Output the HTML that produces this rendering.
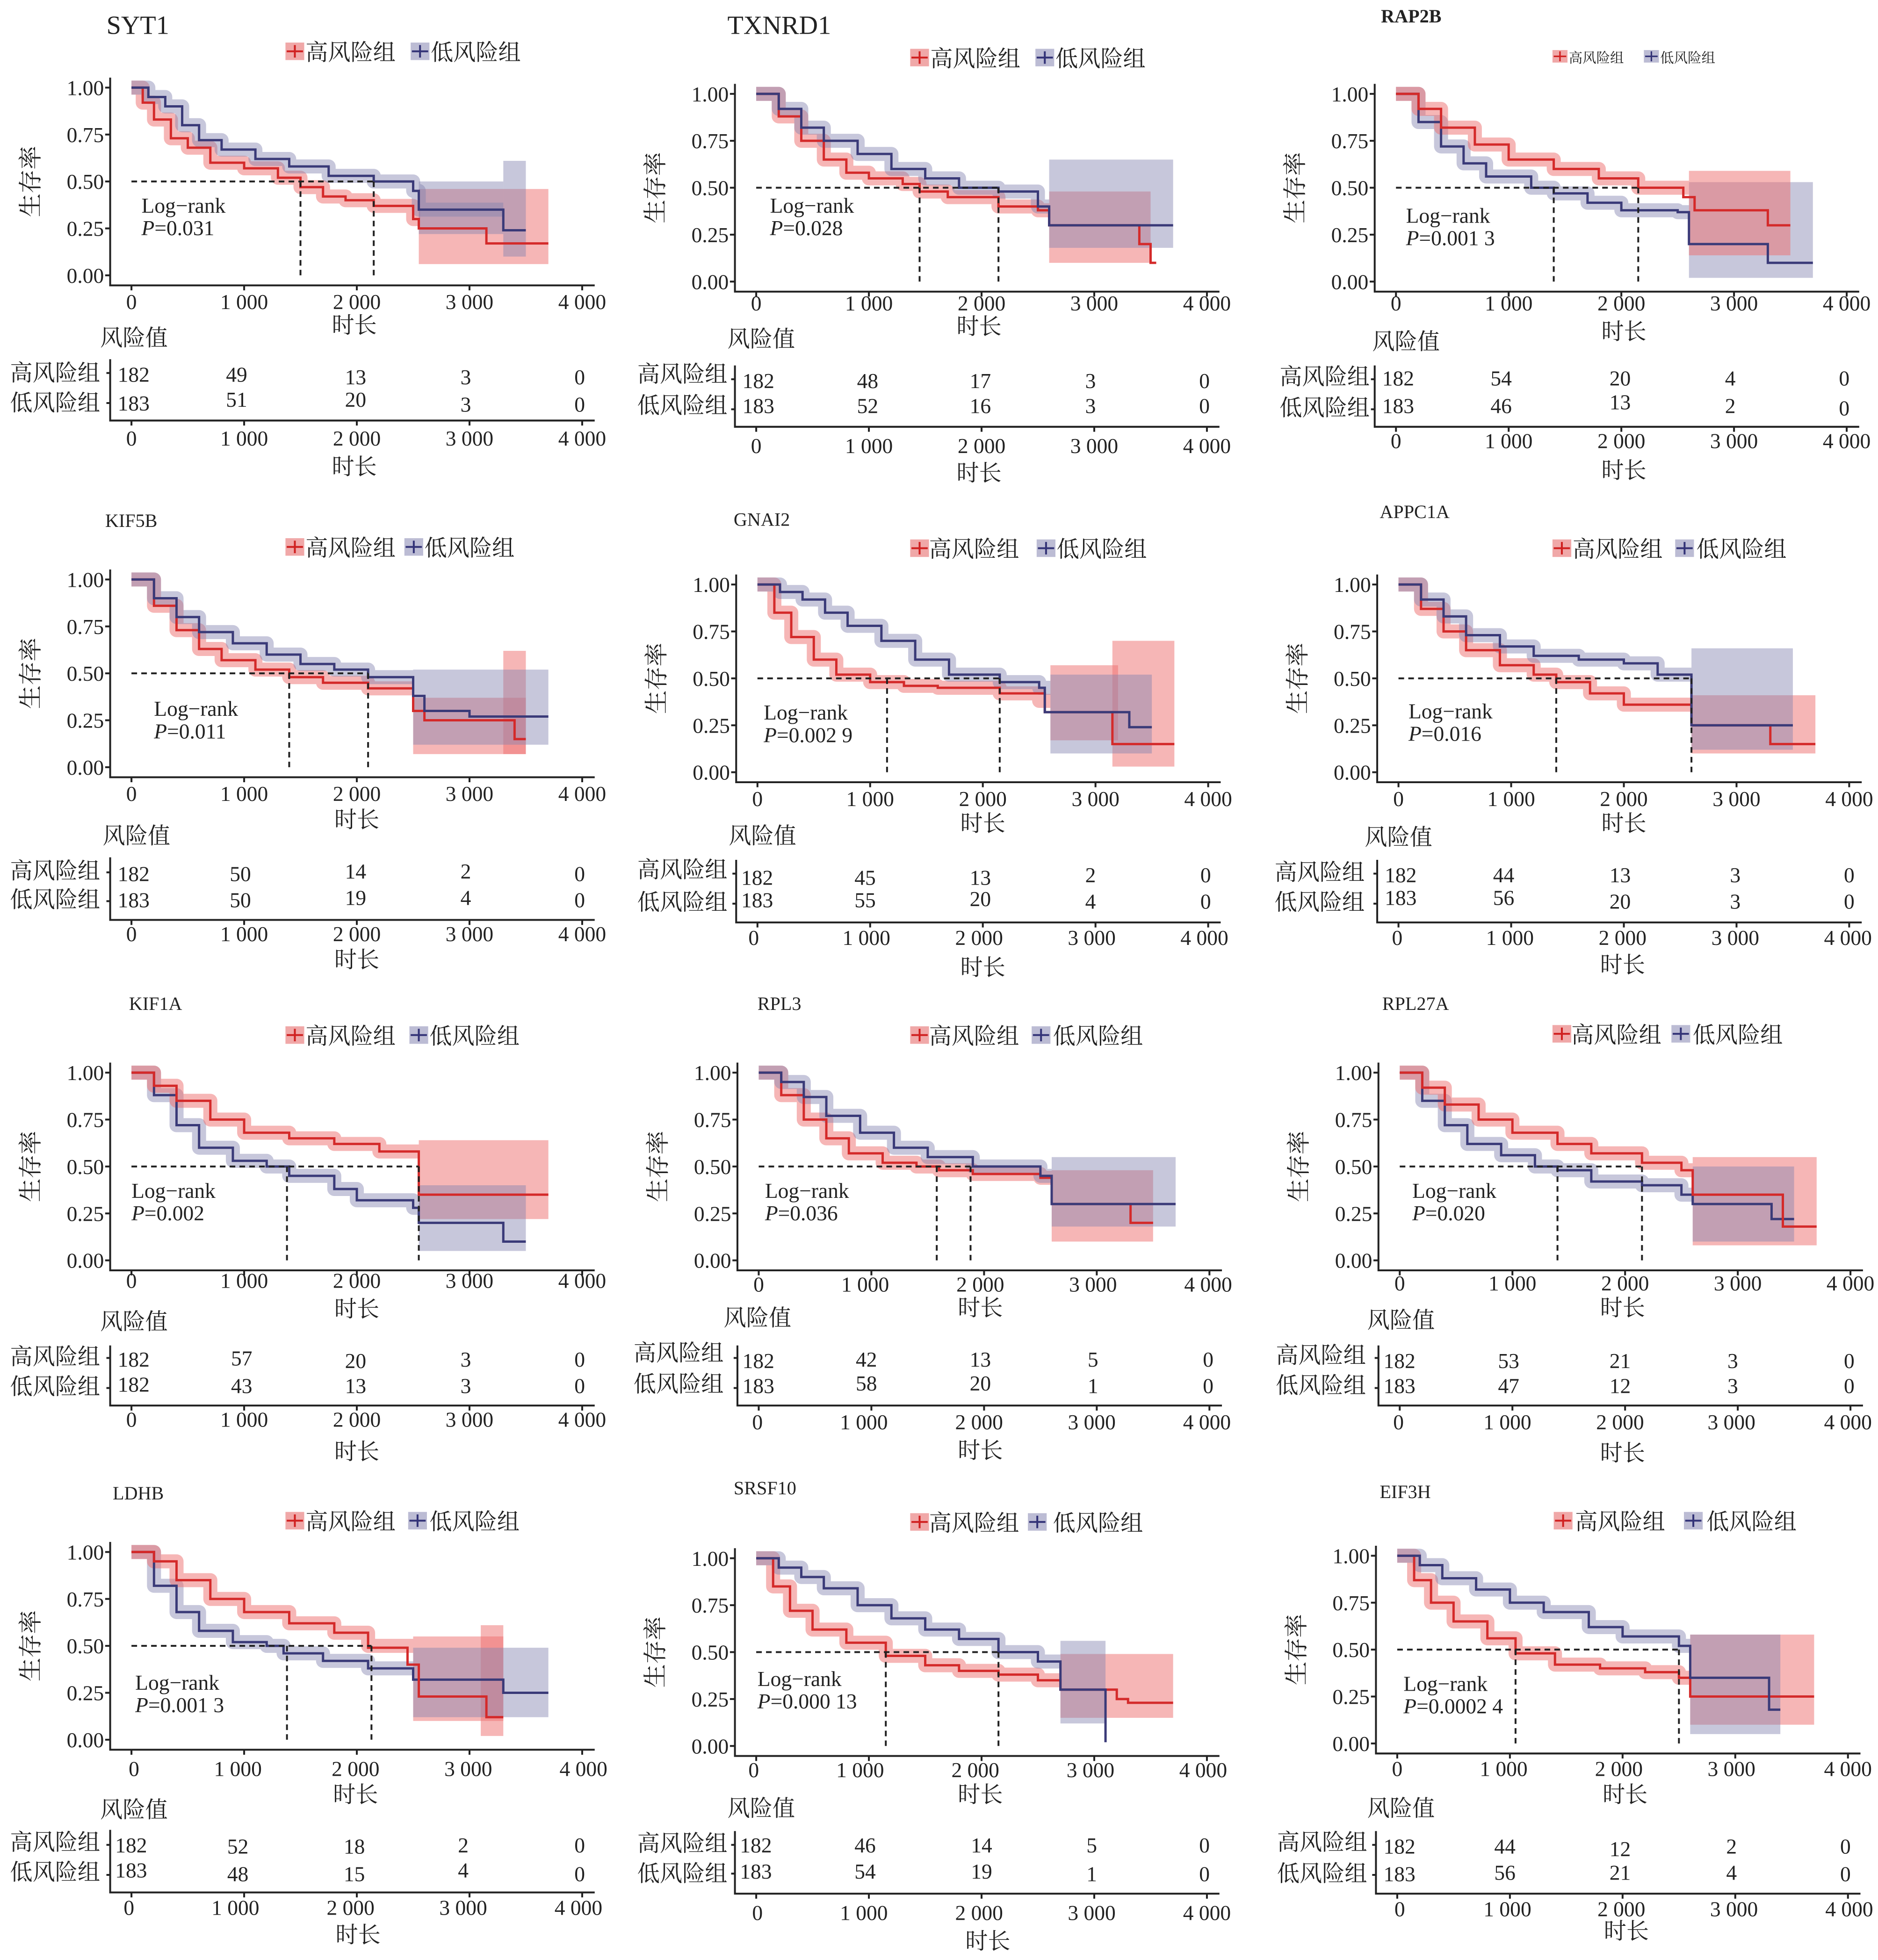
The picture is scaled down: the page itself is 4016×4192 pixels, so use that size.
<!DOCTYPE html>
<html><head><meta charset="utf-8"><style>
html,body{margin:0;padding:0;background:#fff}
svg{display:block}
text{font-family:"Liberation Serif","Noto Serif CJK SC",serif;fill:#222}
.t{font-size:21px}
.ts{font-size:15px;font-weight:bold}
.lg{font-size:18px}
.yl{font-size:19px;text-anchor:middle}
.n{font-size:17px}
.e{font-size:17px;text-anchor:end}
.m{font-size:17px;text-anchor:middle}
.c{font-size:18px;text-anchor:middle}
.ax{fill:none;stroke:#222;stroke-width:1.5}
.br{fill:none;stroke:rgba(238,110,110,.5);stroke-width:30;vector-effect:non-scaling-stroke;stroke-linejoin:round}
.bb{fill:none;stroke:rgba(130,130,175,.45);stroke-width:30;vector-effect:non-scaling-stroke;stroke-linejoin:round}
.rr{fill:rgba(238,110,110,.5)}
.rb{fill:rgba(130,130,175,.45)}
.lr{fill:none;stroke:#d42a2a;stroke-width:5;vector-effect:non-scaling-stroke}
.lb{fill:none;stroke:#3a3a78;stroke-width:5;vector-effect:non-scaling-stroke}
.d{fill:none;stroke:#222;stroke-width:4;stroke-dasharray:12 9;vector-effect:non-scaling-stroke}
</style></head><body>
<svg xmlns="http://www.w3.org/2000/svg" width="4016" height="4192" viewBox="0 0 1500 1566" preserveAspectRatio="none">

<!-- 1 SYT1 -->
<g transform="translate(0,0)">
<text x="85" y="27" class="t">SYT1</text>
<rect x="228" y="34" width="15" height="14" fill="#f0a8a8"/><path d="M229 41h13M235.5 36v10" stroke="#d02020" stroke-width="1.5"/>
<text x="244" y="48" class="lg">高风险组</text>
<rect x="328" y="34" width="15" height="14" fill="#bcbcd4"/><path d="M329 41h13M335.5 36v10" stroke="#333377" stroke-width="1.5"/>
<text x="344" y="48" class="lg">低风险组</text>
<text class="yl" transform="translate(31,145) rotate(-90)">生存率</text>
<path class="ax" d="M88 62V228H475M84 70h4M84 107.5h4M84 145h4M84 182.5h4M84 220h4M105 228v4M195 228v4M285 228v4M375 228v4M465 228v4"/>
<text x="83" y="76" class="e">1.00</text><text x="83" y="113.5" class="e">0.75</text><text x="83" y="151" class="e">0.50</text><text x="83" y="188.5" class="e">0.25</text><text x="83" y="226" class="e">0.00</text>
<text x="105" y="247" class="m">0</text><text x="195" y="247" class="m">1 000</text><text x="285" y="247" class="m">2 000</text><text x="375" y="247" class="m">3 000</text><text x="465" y="247" class="m">4 000</text>
<text x="283" y="266" class="c">时长</text>
<g transform="translate(105,220) scale(0.09,-150)">
<rect class="rr" x="2550" y="0.06" width="1150" height="0.40"/><rect class="rb" x="3300" y="0.1" width="200" height="0.51"/>
<path class="br" d="M0 1H100V.92H200V.83H350V.73H500V.68H700V.6H1000V.57H1300V.52H1500V.47H1700V.42H1900V.4H2150V.37H2500V.3H2550"/>
<path class="bb" d="M0 1H150V.95H300V.9H450V.8H600V.72H800V.67H1100V.62H1400V.58H1750V.53H2150V.5H2500V.45H2550V.35H3300"/>
<rect class="rb" x="2550" y="0.22" width="750" height="0.28"/>
<path class="lr" d="M0 1H100V.92H200V.83H350V.73H500V.68H700V.6H1000V.57H1300V.52H1500V.47H1700V.42H1900V.4H2150V.37H2500V.3H2550V.25H3150V.17H3700"/>
<path class="lb" d="M0 1H150V.95H300V.9H450V.8H600V.72H800V.67H1100V.62H1400V.58H1750V.53H2150V.5H2500V.45H2550V.35H3300V.24H3500"/>
<path class="d" d="M0 .5H2150M1500 .5V0M2150 .5V0"/>
</g>
<text x="113" y="170" class="n">Log−rank</text><text x="113" y="188" class="n"><tspan font-style="italic">P</tspan>=0.031</text>
<text x="80" y="276" class="lg">风险值</text>
<text x="8" y="304" class="lg">高风险组</text><text x="8" y="328" class="lg">低风险组</text>
<path class="ax" d="M88 287V336H475M85 298h3M85 322h3M105 336v4M195 336v4M285 336v4M375 336v4M465 336v4"/>
<text x="94" y="305" class="n">182</text><text x="189" y="305" class="m">49</text><text x="284" y="307" class="m">13</text><text x="372" y="307" class="m">3</text><text x="463" y="307" class="m">0</text>
<text x="94" y="328" class="n">183</text><text x="189" y="325" class="m">51</text><text x="284" y="325" class="m">20</text><text x="372" y="329" class="m">3</text><text x="463" y="329" class="m">0</text>
<text x="105" y="356" class="m">0</text><text x="195" y="356" class="m">1 000</text><text x="285" y="356" class="m">2 000</text><text x="375" y="356" class="m">3 000</text><text x="465" y="356" class="m">4 000</text>
<text x="283" y="379" class="c">时长</text>
</g>

<!-- 2 TXNRD1 -->
<g transform="translate(499,5)">
<text x="82" y="22" class="t">TXNRD1</text>
<rect x="228" y="34" width="15" height="14" fill="#f0a8a8"/><path d="M229 41h13M235.5 36v10" stroke="#d02020" stroke-width="1.5"/>
<text x="244" y="48" class="lg">高风险组</text>
<rect x="328" y="34" width="15" height="14" fill="#bcbcd4"/><path d="M329 41h13M335.5 36v10" stroke="#333377" stroke-width="1.5"/>
<text x="344" y="48" class="lg">低风险组</text>
<text class="yl" transform="translate(31,145) rotate(-90)">生存率</text>
<path class="ax" d="M88 62V228H475M84 70h4M84 107.5h4M84 145h4M84 182.5h4M84 220h4M105 228v4M195 228v4M285 228v4M375 228v4M465 228v4"/>
<text x="83" y="76" class="e">1.00</text><text x="83" y="113.5" class="e">0.75</text><text x="83" y="151" class="e">0.50</text><text x="83" y="188.5" class="e">0.25</text><text x="83" y="226" class="e">0.00</text>
<text x="105" y="243" class="m">0</text><text x="195" y="243" class="m">1 000</text><text x="285" y="243" class="m">2 000</text><text x="375" y="243" class="m">3 000</text><text x="465" y="243" class="m">4 000</text>
<text x="283" y="262" class="c">时长</text>
<g transform="translate(105,220) scale(0.09,-150)">
<rect class="rr" x="2600" y="0.1" width="900" height="0.38"/><rect class="rb" x="2600" y="0.18" width="1100" height="0.47"/>
<path class="br" d="M0 1H200V.88H400V.75H600V.65H800V.58H1000V.55H1300V.52H1450V.48H1700V.45H2150V.4H2500V.38H2600"/>
<path class="bb" d="M0 1H200V.92H400V.82H600V.75H900V.68H1200V.6H1500V.55H1800V.5H2150V.48H2500V.4H2600"/>
<path class="lr" d="M0 1H200V.88H400V.75H600V.65H800V.58H1000V.55H1300V.52H1450V.48H1700V.45H2150V.4H2500V.38H2600V.3H3400V.2H3500V.1H3550"/>
<path class="lb" d="M0 1H200V.92H400V.82H600V.75H900V.68H1200V.6H1500V.55H1800V.5H2150V.48H2500V.4H2600V.3H3700"/>
<path class="d" d="M0 .5H2150M1450 .5V0M2150 .5V0"/>
</g>
<text x="116" y="165" class="n">Log−rank</text><text x="116" y="183" class="n"><tspan font-style="italic">P</tspan>=0.028</text>
<text x="82" y="272" class="lg">风险值</text>
<text x="10" y="300" class="lg">高风险组</text><text x="10" y="325" class="lg">低风险组</text>
<path class="ax" d="M88 287V336H475M85 298h3M85 322h3M105 336v4M195 336v4M285 336v4M375 336v4M465 336v4"/>
<text x="94" y="305" class="n">182</text><text x="194" y="305" class="m">48</text><text x="284" y="305" class="m">17</text><text x="372" y="305" class="m">3</text><text x="463" y="305" class="m">0</text>
<text x="94" y="325" class="n">183</text><text x="194" y="325" class="m">52</text><text x="284" y="325" class="m">16</text><text x="372" y="325" class="m">3</text><text x="463" y="325" class="m">0</text>
<text x="105" y="357" class="m">0</text><text x="195" y="357" class="m">1 000</text><text x="285" y="357" class="m">2 000</text><text x="375" y="357" class="m">3 000</text><text x="465" y="357" class="m">4 000</text>
<text x="283" y="379" class="c">时长</text>
</g>

<!-- 3 RAP2B -->
<g transform="translate(1010,5)">
<text x="93" y="13" class="ts">RAP2B</text>
<rect x="230" y="35" width="12" height="10" fill="#f0a8a8"/><path d="M231 40h10M236 36v8" stroke="#d02020" stroke-width="1.2"/>
<text x="243" y="45" style="font-size:11px">高风险组</text>
<rect x="303" y="35" width="12" height="10" fill="#bcbcd4"/><path d="M304 40h10M309 36v8" stroke="#333377" stroke-width="1.2"/>
<text x="316" y="45" style="font-size:11px">低风险组</text>
<text class="yl" transform="translate(31,145) rotate(-90)">生存率</text>
<path class="ax" d="M88 62V228H475M84 70h4M84 107.5h4M84 145h4M84 182.5h4M84 220h4M105 228v4M195 228v4M285 228v4M375 228v4M465 228v4"/>
<text x="83" y="76" class="e">1.00</text><text x="83" y="113.5" class="e">0.75</text><text x="83" y="151" class="e">0.50</text><text x="83" y="188.5" class="e">0.25</text><text x="83" y="226" class="e">0.00</text>
<text x="105" y="243" class="m">0</text><text x="195" y="243" class="m">1 000</text><text x="285" y="243" class="m">2 000</text><text x="375" y="243" class="m">3 000</text><text x="465" y="243" class="m">4 000</text>
<text x="287" y="266" class="c">时长</text>
<g transform="translate(105,220) scale(0.09,-150)">
<rect class="rb" x="2600" y="0.02" width="1100" height="0.51"/><rect class="rr" x="2600" y="0.14" width="900" height="0.45"/>
<path class="bb" d="M0 1H200V.85H400V.72H600V.63H800V.56H1200V.5H1400V.47H1700V.42H2000V.38H2500V.37H2600"/>
<path class="br" d="M0 1H200V.92H400V.82H700V.73H1000V.65H1400V.6H1800V.55H2150V.5H2600"/>
<path class="lb" d="M0 1H200V.85H400V.72H600V.63H800V.56H1200V.5H1400V.47H1700V.42H2000V.38H2500V.37H2600V.2H3300V.1H3700"/>
<path class="lr" d="M0 1H200V.92H400V.82H700V.73H1000V.65H1400V.6H1800V.55H2150V.5H2550V.45H2650V.38H3300V.3H3500"/>
<path class="d" d="M0 .5H2150M1400 .5V0M2150 .5V0"/>
</g>
<text x="113" y="173" class="n">Log−rank</text><text x="113" y="191" class="n"><tspan font-style="italic">P</tspan>=0.001 3</text>
<text x="86" y="274" class="lg">风险值</text>
<text x="12" y="302" class="lg">高风险组</text><text x="12" y="327" class="lg">低风险组</text>
<path class="ax" d="M88 287V336H475M85 298h3M85 322h3M105 336v4M195 336v4M285 336v4M375 336v4M465 336v4"/>
<text x="94" y="303" class="n">182</text><text x="189" y="303" class="m">54</text><text x="284" y="303" class="m">20</text><text x="372" y="303" class="m">4</text><text x="463" y="303" class="m">0</text>
<text x="94" y="325" class="n">183</text><text x="189" y="325" class="m">46</text><text x="284" y="322" class="m">13</text><text x="372" y="325" class="m">2</text><text x="463" y="327" class="m">0</text>
<text x="105" y="353" class="m">0</text><text x="195" y="353" class="m">1 000</text><text x="285" y="353" class="m">2 000</text><text x="375" y="353" class="m">3 000</text><text x="465" y="353" class="m">4 000</text>
<text x="287" y="377" class="c">时长</text>
</g>

<!-- 4 KIF5B -->
<g transform="translate(0,393)">
<text x="84" y="28" class="ts" style="font-weight:normal">KIF5B</text>
<rect x="228" y="37" width="15" height="14" fill="#f0a8a8"/><path d="M229 44h13M235.5 39v10" stroke="#d02020" stroke-width="1.5"/>
<text x="244" y="51" class="lg">高风险组</text>
<rect x="323" y="37" width="15" height="14" fill="#bcbcd4"/><path d="M324 44h13M330.5 39v10" stroke="#333377" stroke-width="1.5"/>
<text x="339" y="51" class="lg">低风险组</text>
<text class="yl" transform="translate(31,145) rotate(-90)">生存率</text>
<path class="ax" d="M88 62V228H475M84 70h4M84 107.5h4M84 145h4M84 182.5h4M84 220h4M105 228v4M195 228v4M285 228v4M375 228v4M465 228v4"/>
<text x="83" y="76" class="e">1.00</text><text x="83" y="113.5" class="e">0.75</text><text x="83" y="151" class="e">0.50</text><text x="83" y="188.5" class="e">0.25</text><text x="83" y="226" class="e">0.00</text>
<text x="105" y="247" class="m">0</text><text x="195" y="247" class="m">1 000</text><text x="285" y="247" class="m">2 000</text><text x="375" y="247" class="m">3 000</text><text x="465" y="247" class="m">4 000</text>
<text x="285" y="268" class="c">时长</text>
<g transform="translate(105,220) scale(0.09,-150)">
<rect class="rr" x="2500" y="0.07" width="1000" height="0.3"/><rect class="rr" x="3300" y="0.07" width="200" height="0.55"/><rect class="rb" x="2500" y="0.12" width="1200" height="0.4"/>
<path class="br" d="M0 1H200V.86H400V.73H600V.63H800V.57H1100V.52H1400V.48H1700V.45H2100V.42H2500"/>
<path class="bb" d="M0 1H200V.9H400V.8H600V.72H900V.66H1200V.6H1500V.55H1800V.52H2100V.48H2500"/>
<path class="lr" d="M0 1H200V.86H400V.73H600V.63H800V.57H1100V.52H1400V.48H1700V.45H2100V.42H2500V.3H2600V.25H3400V.15H3500"/>
<path class="lb" d="M0 1H200V.9H400V.8H600V.72H900V.66H1200V.6H1500V.55H1800V.52H2100V.48H2500V.38H2600V.3H3000V.27H3700"/>
<path class="d" d="M0 .5H2100M1400 .5V0M2100 .5V0"/>
</g>
<text x="123" y="179" class="n">Log−rank</text><text x="123" y="197" class="n"><tspan font-style="italic">P</tspan>=0.011</text>
<text x="82" y="281" class="lg">风险值</text>
<text x="8" y="309" class="lg">高风险组</text><text x="8" y="332" class="lg">低风险组</text>
<path class="ax" d="M88 292V342H475M85 304h3M85 327h3M105 342v4M195 342v4M285 342v4M375 342v4M465 342v4"/>
<text x="94" y="311" class="n">182</text><text x="192" y="311" class="m">50</text><text x="284" y="309" class="m">14</text><text x="372" y="309" class="m">2</text><text x="463" y="311" class="m">0</text>
<text x="94" y="332" class="n">183</text><text x="192" y="332" class="m">50</text><text x="284" y="330" class="m">19</text><text x="372" y="330" class="m">4</text><text x="463" y="332" class="m">0</text>
<text x="105" y="359" class="m">0</text><text x="195" y="359" class="m">1 000</text><text x="285" y="359" class="m">2 000</text><text x="375" y="359" class="m">3 000</text><text x="465" y="359" class="m">4 000</text>
<text x="285" y="380" class="c">时长</text>
</g>

<!-- 5 GNAI2 -->
<g transform="translate(500,397)">
<text x="86" y="23" class="ts" style="font-weight:normal">GNAI2</text>
<rect x="227" y="34" width="15" height="14" fill="#f0a8a8"/><path d="M228 41h13M234.5 36v10" stroke="#d02020" stroke-width="1.5"/>
<text x="242" y="48" class="lg">高风险组</text>
<rect x="328" y="34" width="15" height="14" fill="#bcbcd4"/><path d="M329 41h13M335.5 36v10" stroke="#333377" stroke-width="1.5"/>
<text x="344" y="48" class="lg">低风险组</text>
<text class="yl" transform="translate(31,145) rotate(-90)">生存率</text>
<path class="ax" d="M88 62V228H475M84 70h4M84 107.5h4M84 145h4M84 182.5h4M84 220h4M105 228v4M195 228v4M285 228v4M375 228v4M465 228v4"/>
<text x="83" y="76" class="e">1.00</text><text x="83" y="113.5" class="e">0.75</text><text x="83" y="151" class="e">0.50</text><text x="83" y="188.5" class="e">0.25</text><text x="83" y="226" class="e">0.00</text>
<text x="105" y="247" class="m">0</text><text x="195" y="247" class="m">1 000</text><text x="285" y="247" class="m">2 000</text><text x="375" y="247" class="m">3 000</text><text x="465" y="247" class="m">4 000</text>
<text x="285" y="267" class="c">时长</text>
<g transform="translate(105,220) scale(0.09,-150)">
<rect class="rr" x="2600" y="0.17" width="600" height="0.4"/><rect class="rr" x="3150" y="0.03" width="550" height="0.67"/><rect class="rb" x="2600" y="0.1" width="900" height="0.42"/>
<path class="br" d="M0 1H150V.85H300V.72H500V.6H700V.52H1000V.48H1300V.46H1600V.45H2150V.42H2500V.38H2600"/>
<path class="bb" d="M0 1H200V.96H400V.92H600V.85H800V.78H1100V.7H1400V.6H1700V.52H2150V.48H2500V.45H2600"/>
<path class="lr" d="M0 1H150V.85H300V.72H500V.6H700V.52H1000V.48H1300V.46H1600V.45H2150V.42H2550V.32H3150V.15H3700"/>
<path class="lb" d="M0 1H200V.96H400V.92H600V.85H800V.78H1100V.7H1400V.6H1700V.52H2150V.48H2500V.45H2550V.32H3300V.24H3500"/>
<path class="d" d="M0 .5H2150M1150 .5V0M2150 .5V0"/>
</g>
<text x="110" y="178" class="n">Log−rank</text><text x="110" y="196" class="n"><tspan font-style="italic">P</tspan>=0.002 9</text>
<text x="82" y="277" class="lg">风险值</text>
<text x="9" y="304" class="lg">高风险组</text><text x="9" y="330" class="lg">低风险组</text>
<path class="ax" d="M88 290V340H475M85 301h3M85 325h3M105 340v4M195 340v4M285 340v4M375 340v4M465 340v4"/>
<text x="92" y="310" class="n">182</text><text x="191" y="310" class="m">45</text><text x="283" y="310" class="m">13</text><text x="371" y="308" class="m">2</text><text x="463" y="308" class="m">0</text>
<text x="92" y="328" class="n">183</text><text x="191" y="328" class="m">55</text><text x="283" y="327" class="m">20</text><text x="371" y="329" class="m">4</text><text x="463" y="329" class="m">0</text>
<text x="102" y="358" class="m">0</text><text x="192" y="358" class="m">1 000</text><text x="282" y="358" class="m">2 000</text><text x="372" y="358" class="m">3 000</text><text x="462" y="358" class="m">4 000</text>
<text x="285" y="382" class="c">时长</text>
</g>

<!-- 6 APPC1A -->
<g transform="translate(1012,397)">
<text x="90" y="17" class="ts" style="font-weight:normal">APPC1A</text>
<rect x="228" y="34" width="15" height="14" fill="#f0a8a8"/><path d="M229 41h13M235.5 36v10" stroke="#d02020" stroke-width="1.5"/>
<text x="244" y="48" class="lg">高风险组</text>
<rect x="326" y="34" width="15" height="14" fill="#bcbcd4"/><path d="M327 41h13M333.5 36v10" stroke="#333377" stroke-width="1.5"/>
<text x="343" y="48" class="lg">低风险组</text>
<text class="yl" transform="translate(31,145) rotate(-90)">生存率</text>
<path class="ax" d="M88 62V228H475M84 70h4M84 107.5h4M84 145h4M84 182.5h4M84 220h4M105 228v4M195 228v4M285 228v4M375 228v4M465 228v4"/>
<text x="83" y="76" class="e">1.00</text><text x="83" y="113.5" class="e">0.75</text><text x="83" y="151" class="e">0.50</text><text x="83" y="188.5" class="e">0.25</text><text x="83" y="226" class="e">0.00</text>
<text x="105" y="247" class="m">0</text><text x="195" y="247" class="m">1 000</text><text x="285" y="247" class="m">2 000</text><text x="375" y="247" class="m">3 000</text><text x="465" y="247" class="m">4 000</text>
<text x="285" y="267" class="c">时长</text>
<g transform="translate(105,220) scale(0.09,-150)">
<rect class="rr" x="2600" y="0.1" width="1100" height="0.31"/><rect class="rb" x="2600" y="0.12" width="900" height="0.54"/>
<path class="br" d="M0 1H200V.87H400V.75H600V.65H900V.57H1200V.52H1400V.48H1700V.42H2000V.36H2600"/>
<path class="bb" d="M0 1H200V.92H400V.83H600V.73H900V.67H1200V.62H1600V.6H2000V.58H2300V.52H2600"/>
<path class="lr" d="M0 1H200V.87H400V.75H600V.65H900V.57H1200V.52H1400V.48H1700V.42H2000V.36H2600V.25H3300V.15H3700"/>
<path class="lb" d="M0 1H200V.92H400V.83H600V.73H900V.67H1200V.62H1600V.6H2000V.58H2300V.52H2600V.25H3500"/>
<path class="d" d="M0 .5H2600M1400 .5V0M2600 .5V0"/>
</g>
<text x="113" y="177" class="n">Log−rank</text><text x="113" y="195" class="n"><tspan font-style="italic">P</tspan>=0.016</text>
<text x="78" y="278" class="lg">风险值</text>
<text x="6" y="306" class="lg">高风险组</text><text x="6" y="330" class="lg">低风险组</text>
<path class="ax" d="M88 290V340H475M85 301h3M85 325h3M105 340v4M195 340v4M285 340v4M375 340v4M465 340v4"/>
<text x="94" y="308" class="n">182</text><text x="189" y="308" class="m">44</text><text x="282" y="308" class="m">13</text><text x="374" y="308" class="m">3</text><text x="465" y="308" class="m">0</text>
<text x="94" y="326" class="n">183</text><text x="189" y="326" class="m">56</text><text x="282" y="329" class="m">20</text><text x="374" y="329" class="m">3</text><text x="465" y="329" class="m">0</text>
<text x="104" y="358" class="m">0</text><text x="194" y="358" class="m">1 000</text><text x="284" y="358" class="m">2 000</text><text x="374" y="358" class="m">3 000</text><text x="464" y="358" class="m">4 000</text>
<text x="284" y="380" class="c">时长</text>
</g>

<!-- 7 KIF1A -->
<g transform="translate(0,787)">
<text x="103" y="20" class="ts" style="font-weight:normal">KIF1A</text>
<rect x="228" y="33" width="15" height="14" fill="#f0a8a8"/><path d="M229 40h13M235.5 35v10" stroke="#d02020" stroke-width="1.5"/>
<text x="244" y="47" class="lg">高风险组</text>
<rect x="327" y="33" width="15" height="14" fill="#bcbcd4"/><path d="M328 40h13M334.5 35v10" stroke="#333377" stroke-width="1.5"/>
<text x="343" y="47" class="lg">低风险组</text>
<text class="yl" transform="translate(31,145) rotate(-90)">生存率</text>
<path class="ax" d="M88 62V228H475M84 70h4M84 107.5h4M84 145h4M84 182.5h4M84 220h4M105 228v4M195 228v4M285 228v4M375 228v4M465 228v4"/>
<text x="83" y="76" class="e">1.00</text><text x="83" y="113.5" class="e">0.75</text><text x="83" y="151" class="e">0.50</text><text x="83" y="188.5" class="e">0.25</text><text x="83" y="226" class="e">0.00</text>
<text x="105" y="242" class="m">0</text><text x="195" y="242" class="m">1 000</text><text x="285" y="242" class="m">2 000</text><text x="375" y="242" class="m">3 000</text><text x="465" y="242" class="m">4 000</text>
<text x="285" y="265" class="c">时长</text>
<g transform="translate(105,220) scale(0.09,-150)">
<rect class="rr" x="2550" y="0.22" width="1150" height="0.42"/><rect class="rb" x="2550" y="0.05" width="950" height="0.35"/>
<path class="bb" d="M0 1H200V.88H400V.72H600V.6H900V.53H1200V.5H1400V.45H1800V.38H2000V.32H2500V.28H2550"/>
<path class="br" d="M0 1H200V.93H400V.85H700V.75H1000V.68H1400V.65H1800V.62H2200V.58H2550"/>
<path class="lb" d="M0 1H200V.88H400V.72H600V.6H900V.53H1200V.5H1400V.45H1800V.38H2000V.32H2500V.28H2550V.2H3300V.1H3500"/>
<path class="lr" d="M0 1H200V.93H400V.85H700V.75H1000V.68H1400V.65H1800V.62H2200V.58H2550V.35H3700"/>
<path class="d" d="M0 .5H2550M1380 .5V0M2550 .5V0"/>
</g>
<text x="105" y="170" class="n">Log−rank</text><text x="105" y="188" class="n"><tspan font-style="italic">P</tspan>=0.002</text>
<text x="80" y="275" class="lg">风险值</text>
<text x="8" y="303" class="lg">高风险组</text><text x="8" y="327" class="lg">低风险组</text>
<path class="ax" d="M88 288V336H475M85 298h3M85 322h3M105 336v4M195 336v4M285 336v4M375 336v4M465 336v4"/>
<text x="94" y="305" class="n">182</text><text x="193" y="304" class="m">57</text><text x="284" y="306" class="m">20</text><text x="372" y="305" class="m">3</text><text x="463" y="305" class="m">0</text>
<text x="94" y="325" class="n">182</text><text x="193" y="326" class="m">43</text><text x="284" y="326" class="m">13</text><text x="372" y="326" class="m">3</text><text x="463" y="326" class="m">0</text>
<text x="105" y="353" class="m">0</text><text x="195" y="353" class="m">1 000</text><text x="285" y="353" class="m">2 000</text><text x="375" y="353" class="m">3 000</text><text x="465" y="353" class="m">4 000</text>
<text x="285" y="379" class="c">时长</text>
</g>

<!-- 8 RPL3 -->
<g transform="translate(501,787)">
<text x="104" y="20" class="ts" style="font-weight:normal">RPL3</text>
<rect x="226" y="33" width="15" height="14" fill="#f0a8a8"/><path d="M227 40h13M233.5 35v10" stroke="#d02020" stroke-width="1.5"/>
<text x="241" y="47" class="lg">高风险组</text>
<rect x="323" y="33" width="15" height="14" fill="#bcbcd4"/><path d="M324 40h13M330.5 35v10" stroke="#333377" stroke-width="1.5"/>
<text x="340" y="47" class="lg">低风险组</text>
<text class="yl" transform="translate(31,145) rotate(-90)">生存率</text>
<path class="ax" d="M88 62V228H475M84 70h4M84 107.5h4M84 145h4M84 182.5h4M84 220h4M105 228v4M195 228v4M285 228v4M375 228v4M465 228v4"/>
<text x="83" y="76" class="e">1.00</text><text x="83" y="113.5" class="e">0.75</text><text x="83" y="151" class="e">0.50</text><text x="83" y="188.5" class="e">0.25</text><text x="83" y="226" class="e">0.00</text>
<text x="105" y="245" class="m">0</text><text x="190" y="245" class="m">1 000</text><text x="282" y="245" class="m">2 000</text><text x="372" y="245" class="m">3 000</text><text x="464" y="245" class="m">4 000</text>
<text x="282" y="264" class="c">时长</text>
<g transform="translate(105,220) scale(0.09,-150)">
<rect class="rr" x="2600" y="0.1" width="900" height="0.38"/><rect class="rb" x="2600" y="0.18" width="1100" height="0.37"/>
<path class="br" d="M0 1H200V.88H400V.75H600V.65H800V.57H1100V.52H1400V.5H1600V.48H1900V.46H2500V.44H2600"/>
<path class="bb" d="M0 1H200V.95H400V.87H600V.77H900V.68H1200V.6H1500V.55H1900V.5H2500V.45H2600"/>
<path class="lr" d="M0 1H200V.88H400V.75H600V.65H800V.57H1100V.52H1400V.5H1600V.48H1900V.46H2500V.44H2600V.3H3300V.2H3500"/>
<path class="lb" d="M0 1H200V.95H400V.87H600V.77H900V.68H1200V.6H1500V.55H1900V.5H2500V.45H2600V.3H3700"/>
<path class="d" d="M0 .5H1880M1580 .5V0M1880 .5V0"/>
</g>
<text x="110" y="170" class="n">Log−rank</text><text x="110" y="188" class="n"><tspan font-style="italic">P</tspan>=0.036</text>
<text x="77" y="272" class="lg">风险值</text>
<text x="5" y="300" class="lg">高风险组</text><text x="5" y="325" class="lg">低风险组</text>
<path class="ax" d="M88 288V336H475M85 298h3M85 322h3M105 336v4M195 336v4M285 336v4M375 336v4M465 336v4"/>
<text x="92" y="306" class="n">182</text><text x="191" y="305" class="m">42</text><text x="282" y="305" class="m">13</text><text x="372" y="305" class="m">5</text><text x="464" y="305" class="m">0</text>
<text x="92" y="326" class="n">183</text><text x="191" y="324" class="m">58</text><text x="282" y="324" class="m">20</text><text x="372" y="326" class="m">1</text><text x="464" y="326" class="m">0</text>
<text x="104" y="355" class="m">0</text><text x="189" y="355" class="m">1 000</text><text x="281" y="355" class="m">2 000</text><text x="371" y="355" class="m">3 000</text><text x="463" y="355" class="m">4 000</text>
<text x="282" y="378" class="c">时长</text>
</g>

<!-- 9 RPL27A -->
<g transform="translate(1013,787)">
<text x="91" y="20" class="ts" style="font-weight:normal">RPL27A</text>
<rect x="227" y="32" width="15" height="14" fill="#f0a8a8"/><path d="M228 39h13M234.5 34v10" stroke="#d02020" stroke-width="1.5"/>
<text x="242" y="46" class="lg">高风险组</text>
<rect x="322" y="32" width="15" height="14" fill="#bcbcd4"/><path d="M323 39h13M329.5 34v10" stroke="#333377" stroke-width="1.5"/>
<text x="339" y="46" class="lg">低风险组</text>
<text class="yl" transform="translate(31,145) rotate(-90)">生存率</text>
<path class="ax" d="M88 62V228H475M84 70h4M84 107.5h4M84 145h4M84 182.5h4M84 220h4M105 228v4M195 228v4M285 228v4M375 228v4M465 228v4"/>
<text x="83" y="76" class="e">1.00</text><text x="83" y="113.5" class="e">0.75</text><text x="83" y="151" class="e">0.50</text><text x="83" y="188.5" class="e">0.25</text><text x="83" y="226" class="e">0.00</text>
<text x="105" y="244" class="m">0</text><text x="195" y="244" class="m">1 000</text><text x="285" y="244" class="m">2 000</text><text x="375" y="244" class="m">3 000</text><text x="465" y="244" class="m">4 000</text>
<text x="283" y="264" class="c">时长</text>
<g transform="translate(105,220) scale(0.09,-150)">
<rect class="rr" x="2600" y="0.08" width="1100" height="0.47"/><rect class="rb" x="2600" y="0.1" width="900" height="0.4"/>
<path class="bb" d="M0 1H200V.85H400V.72H600V.62H900V.56H1200V.5H1400V.48H1700V.42H2150V.4H2500V.35H2600"/>
<path class="br" d="M0 1H200V.92H400V.83H700V.75H1000V.68H1400V.62H1700V.57H2150V.52H2500V.48H2600"/>
<path class="lb" d="M0 1H200V.85H400V.72H600V.62H900V.56H1200V.5H1400V.48H1700V.42H2150V.4H2500V.35H2600V.3H3300V.22H3500"/>
<path class="lr" d="M0 1H200V.92H400V.83H700V.75H1000V.68H1400V.62H1700V.57H2150V.52H2500V.48H2600V.35H3400V.18H3700"/>
<path class="d" d="M0 .5H2150M1400 .5V0M2150 .5V0"/>
</g>
<text x="115" y="170" class="n">Log−rank</text><text x="115" y="188" class="n"><tspan font-style="italic">P</tspan>=0.020</text>
<text x="79" y="274" class="lg">风险值</text>
<text x="6" y="302" class="lg">高风险组</text><text x="6" y="326" class="lg">低风险组</text>
<path class="ax" d="M88 288V336H475M85 298h3M85 322h3M105 336v4M195 336v4M285 336v4M375 336v4M465 336v4"/>
<text x="92" y="306" class="n">182</text><text x="192" y="306" class="m">53</text><text x="281" y="306" class="m">21</text><text x="371" y="306" class="m">3</text><text x="464" y="306" class="m">0</text>
<text x="92" y="326" class="n">183</text><text x="192" y="326" class="m">47</text><text x="281" y="326" class="m">12</text><text x="371" y="326" class="m">3</text><text x="464" y="326" class="m">0</text>
<text x="104" y="355" class="m">0</text><text x="191" y="355" class="m">1 000</text><text x="281" y="355" class="m">2 000</text><text x="370" y="355" class="m">3 000</text><text x="463" y="355" class="m">4 000</text>
<text x="283" y="380" class="c">时长</text>
</g>

<!-- 10 LDHB -->
<g transform="translate(0,1170)">
<text x="90" y="28" class="ts" style="font-weight:normal">LDHB</text>
<rect x="228" y="38" width="15" height="14" fill="#f0a8a8"/><path d="M229 45h13M235.5 40v10" stroke="#d02020" stroke-width="1.5"/>
<text x="244" y="52" class="lg">高风险组</text>
<rect x="326" y="38" width="15" height="14" fill="#bcbcd4"/><path d="M327 45h13M333.5 40v10" stroke="#333377" stroke-width="1.5"/>
<text x="343" y="52" class="lg">低风险组</text>
<text class="yl" transform="translate(31,145) rotate(-90)">生存率</text>
<path class="ax" d="M88 62V228H475M84 70h4M84 107.5h4M84 145h4M84 182.5h4M84 220h4M105 228v4M195 228v4M285 228v4M375 228v4M465 228v4"/>
<text x="83" y="76" class="e">1.00</text><text x="83" y="113.5" class="e">0.75</text><text x="83" y="151" class="e">0.50</text><text x="83" y="188.5" class="e">0.25</text><text x="83" y="226" class="e">0.00</text>
<text x="107" y="249" class="m">0</text><text x="190" y="249" class="m">1 000</text><text x="284" y="249" class="m">2 000</text><text x="374" y="249" class="m">3 000</text><text x="466" y="249" class="m">4 000</text>
<text x="284" y="270" class="c">时长</text>
<g transform="translate(105,220) scale(0.09,-150)">
<rect class="rr" x="2500" y="0.1" width="800" height="0.45"/><rect class="rr" x="3100" y="0.02" width="200" height="0.59"/><rect class="rb" x="2500" y="0.12" width="1200" height="0.37"/>
<path class="bb" d="M0 1H200V.82H400V.68H600V.58H900V.52H1200V.5H1350V.46H1700V.42H2100V.38H2500"/>
<path class="br" d="M0 1H200V.95H400V.85H700V.75H1000V.68H1400V.62H1800V.57H2100V.5H2500"/>
<path class="lb" d="M0 1H200V.82H400V.68H600V.58H900V.52H1200V.5H1350V.46H1700V.42H2100V.38H2500V.32H3300V.25H3700"/>
<path class="lr" d="M0 1H200V.95H400V.85H700V.75H1000V.68H1400V.62H1800V.57H2100V.49H2450V.4H2550V.23H3150V.12H3300"/>
<path class="d" d="M0 .5H2130M1380 .5V0M2130 .5V0"/>
</g>
<text x="108" y="180" class="n">Log−rank</text><text x="108" y="198" class="n"><tspan font-style="italic">P</tspan>=0.001 3</text>
<text x="80" y="282" class="lg">风险值</text>
<text x="8" y="308" class="lg">高风险组</text><text x="8" y="332" class="lg">低风险组</text>
<path class="ax" d="M88 292V342H475M85 304h3M85 328h3M105 342v4M195 342v4M285 342v4M375 342v4M465 342v4"/>
<text x="92" y="310" class="n">182</text><text x="190" y="311" class="m">52</text><text x="283" y="311" class="m">18</text><text x="370" y="310" class="m">2</text><text x="463" y="310" class="m">0</text>
<text x="92" y="330" class="n">183</text><text x="190" y="333" class="m">48</text><text x="283" y="333" class="m">15</text><text x="370" y="330" class="m">4</text><text x="463" y="333" class="m">0</text>
<text x="103" y="360" class="m">0</text><text x="188" y="360" class="m">1 000</text><text x="280" y="360" class="m">2 000</text><text x="370" y="360" class="m">3 000</text><text x="462" y="360" class="m">4 000</text>
<text x="286" y="382" class="c">时长</text>
</g>

<!-- 11 SRSF10 -->
<g transform="translate(499,1175)">
<text x="87" y="19" class="ts" style="font-weight:normal">SRSF10</text>
<rect x="228" y="34" width="15" height="14" fill="#f0a8a8"/><path d="M229 41h13M235.5 36v10" stroke="#d02020" stroke-width="1.5"/>
<text x="243" y="48" class="lg">高风险组</text>
<rect x="322" y="34" width="15" height="14" fill="#bcbcd4"/><path d="M323 41h13M329.5 36v10" stroke="#333377" stroke-width="1.5"/>
<text x="342" y="48" class="lg">低风险组</text>
<text class="yl" transform="translate(31,145) rotate(-90)">生存率</text>
<path class="ax" d="M88 62V228H475M84 70h4M84 107.5h4M84 145h4M84 182.5h4M84 220h4M105 228v4M195 228v4M285 228v4M375 228v4M465 228v4"/>
<text x="83" y="76" class="e">1.00</text><text x="83" y="113.5" class="e">0.75</text><text x="83" y="151" class="e">0.50</text><text x="83" y="188.5" class="e">0.25</text><text x="83" y="226" class="e">0.00</text>
<text x="103" y="245" class="m">0</text><text x="188" y="245" class="m">1 000</text><text x="280" y="245" class="m">2 000</text><text x="372" y="245" class="m">3 000</text><text x="462" y="245" class="m">4 000</text>
<text x="284" y="265" class="c">时长</text>
<g transform="translate(105,220) scale(0.09,-150)">
<rect class="rr" x="2700" y="0.15" width="1000" height="0.34"/><rect class="rb" x="2700" y="0.12" width="400" height="0.44"/>
<path class="br" d="M0 1H150V.85H300V.72H500V.62H800V.55H1150V.48H1500V.43H1800V.4H2150V.38H2500V.35H2700"/>
<path class="bb" d="M0 1H200V.95H400V.9H600V.84H900V.75H1200V.68H1500V.62H1800V.57H2150V.5H2500V.45H2700"/>
<path class="lr" d="M0 1H150V.85H300V.72H500V.62H800V.55H1150V.48H1500V.43H1800V.4H2150V.38H2500V.35H2700V.3H3200V.25H3300V.23H3700"/>
<path class="lb" d="M0 1H200V.95H400V.9H600V.84H900V.75H1200V.68H1500V.62H1800V.57H2150V.5H2500V.45H2700V.3H3100V.02"/>
<path class="d" d="M0 .5H2150M1150 .5V0M2150 .5V0"/>
</g>
<text x="106" y="172" class="n">Log−rank</text><text x="106" y="190" class="n"><tspan font-style="italic">P</tspan>=0.000 13</text>
<text x="82" y="276" class="lg">风险值</text>
<text x="10" y="304" class="lg">高风险组</text><text x="10" y="328" class="lg">低风险组</text>
<path class="ax" d="M88 288V338H475M85 299h3M85 322h3M105 338v4M195 338v4M285 338v4M375 338v4M465 338v4"/>
<text x="92" y="305" class="n">182</text><text x="192" y="305" class="m">46</text><text x="285" y="305" class="m">14</text><text x="373" y="305" class="m">5</text><text x="463" y="305" class="m">0</text>
<text x="92" y="326" class="n">183</text><text x="192" y="326" class="m">54</text><text x="285" y="326" class="m">19</text><text x="373" y="328" class="m">1</text><text x="463" y="328" class="m">0</text>
<text x="106" y="359" class="m">0</text><text x="191" y="359" class="m">1 000</text><text x="283" y="359" class="m">2 000</text><text x="373" y="359" class="m">3 000</text><text x="465" y="359" class="m">4 000</text>
<text x="290" y="382" class="c">时长</text>
</g>

<!-- 12 EIF3H -->
<g transform="translate(1011,1173)">
<text x="91" y="24" class="ts" style="font-weight:normal">EIF3H</text>
<rect x="230" y="35" width="15" height="14" fill="#f0a8a8"/><path d="M231 42h13M237.5 37v10" stroke="#d02020" stroke-width="1.5"/>
<text x="247" y="49" class="lg">高风险组</text>
<rect x="334" y="35" width="15" height="14" fill="#bcbcd4"/><path d="M335 42h13M341.5 37v10" stroke="#333377" stroke-width="1.5"/>
<text x="352" y="49" class="lg">低风险组</text>
<text class="yl" transform="translate(31,145) rotate(-90)">生存率</text>
<path class="ax" d="M88 62V228H475M84 70h4M84 107.5h4M84 145h4M84 182.5h4M84 220h4M105 228v4M195 228v4M285 228v4M375 228v4M465 228v4"/>
<text x="83" y="76" class="e">1.00</text><text x="83" y="113.5" class="e">0.75</text><text x="83" y="151" class="e">0.50</text><text x="83" y="188.5" class="e">0.25</text><text x="83" y="226" class="e">0.00</text>
<text x="105" y="246" class="m">0</text><text x="190" y="246" class="m">1 000</text><text x="282" y="246" class="m">2 000</text><text x="372" y="246" class="m">3 000</text><text x="465" y="246" class="m">4 000</text>
<text x="287" y="267" class="c">时长</text>
<g transform="translate(105,220) scale(0.09,-150)">
<rect class="rr" x="2600" y="0.1" width="1100" height="0.48"/><rect class="rb" x="2600" y="0.05" width="800" height="0.53"/>
<path class="br" d="M0 1H150V.87H300V.75H500V.65H800V.56H1050V.48H1400V.42H1800V.4H2200V.38H2500V.35H2600"/>
<path class="bb" d="M0 1H200V.95H400V.88H700V.82H1000V.75H1300V.7H1700V.62H2000V.57H2500V.52H2600"/>
<path class="lr" d="M0 1H150V.87H300V.75H500V.65H800V.56H1050V.48H1400V.42H1800V.4H2200V.38H2500V.35H2600V.25H3700"/>
<path class="lb" d="M0 1H200V.95H400V.88H700V.82H1000V.75H1300V.7H1700V.62H2000V.57H2500V.52H2600V.35H3300V.18H3400"/>
<path class="d" d="M0 .5H2500M1050 .5V0M2500 .5V0"/>
</g>
<text x="110" y="178" class="n">Log−rank</text><text x="110" y="196" class="n"><tspan font-style="italic">P</tspan>=0.0002 4</text>
<text x="81" y="278" class="lg">风险值</text>
<text x="9" y="305" class="lg">高风险组</text><text x="9" y="330" class="lg">低风险组</text>
<path class="ax" d="M88 290V340H475M85 301h3M85 325h3M105 340v4M195 340v4M285 340v4M375 340v4M465 340v4"/>
<text x="94" y="308" class="n">182</text><text x="191" y="308" class="m">44</text><text x="283" y="310" class="m">12</text><text x="372" y="308" class="m">2</text><text x="463" y="308" class="m">0</text>
<text x="94" y="330" class="n">183</text><text x="191" y="329" class="m">56</text><text x="283" y="329" class="m">21</text><text x="372" y="329" class="m">4</text><text x="463" y="330" class="m">0</text>
<text x="107" y="358" class="m">0</text><text x="193" y="358" class="m">1 000</text><text x="284" y="358" class="m">2 000</text><text x="374" y="358" class="m">3 000</text><text x="466" y="358" class="m">4 000</text>
<text x="288" y="376" class="c">时长</text>
</g>

</svg>
</body></html>
